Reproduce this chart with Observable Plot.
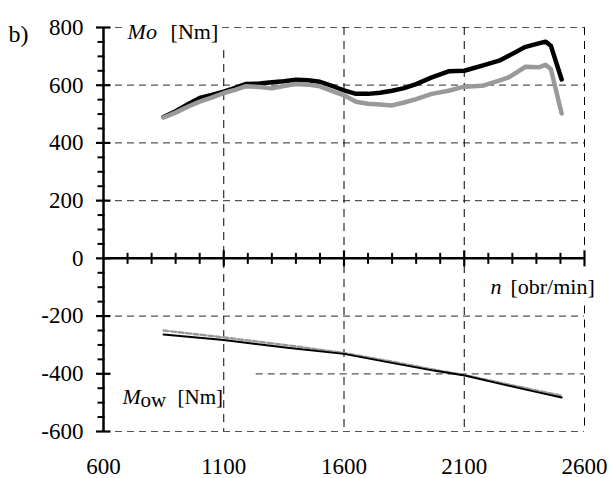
<!DOCTYPE html>
<html>
<head>
<meta charset="utf-8">
<script src="https://cdn.jsdelivr.net/npm/d3@7"></script>
<script src="https://cdn.jsdelivr.net/npm/@observablehq/plot@0.6"></script>
<style>
  html, body { margin: 0; padding: 0; background: #fff; }
</style>
</head>
<body>
<div id="chart"></div>
<script>
// ---- data ----
const rpmMo   = [850, 900, 955, 1000, 1050, 1100, 1150, 1190, 1250, 1300, 1350, 1400, 1450, 1500, 1565, 1600, 1650, 1700, 1750, 1800, 1850, 1900, 1965, 2035, 2100, 2175, 2245, 2285, 2355, 2410, 2438, 2460, 2505];
const moBlack = [490, 510, 536, 556, 566, 578, 592, 604, 606, 610, 614, 619, 617, 612, 593, 582, 570, 570, 574, 581, 590, 604, 627, 648, 650, 668, 685, 702, 733, 745, 751, 737, 620];
const moGray  = [488, 505, 527, 543, 557, 573, 585, 596, 594, 589, 597, 604, 602, 596, 575, 565, 543, 536, 533, 530, 540, 552, 570, 581, 595, 598, 616, 627, 664, 662, 671, 656, 502];

const rpmMowBlack = [850, 1100, 1364, 1600, 1765, 1973, 2102, 2251, 2389, 2505];
const mowBlack    = [-264, -283, -310, -331, -357, -389, -406, -435, -461, -482];
const rpmMowGray  = [850, 1100, 1400, 1600, 1800, 2000, 2100, 2300, 2505];
const mowGray     = [-250, -274, -305, -328, -358, -390, -404, -440, -476];

const xTicks = [600, 1100, 1600, 2100, 2600];
const yTicks = [800, 600, 400, 200, 0, -200, -400, -600];
const xMinor = d3.range(700, 2600, 100).filter(d => !xTicks.includes(d));
const yMinor = d3.range(-550, 800, 50).filter(d => !yTicks.includes(d));

// grid segments (data units)
const hGrid = [
  {y: 800, x1: 600, x2: 680}, {y: 800, x1: 1095, x2: 2600},
  {y: 600, x1: 600, x2: 2600}, {y: 400, x1: 600, x2: 2600},
  {y: 200, x1: 600, x2: 2600}, {y: -200, x1: 600, x2: 2600},
  {y: -400, x1: 1235, x2: 2600}, {y: -600, x1: 600, x2: 2600}
];
const vGrid = [
  {x: 1100, y1: 720, y2: -600}, {x: 1600, y1: 800, y2: -600},
  {x: 2100, y1: 800, y2: -600}, {x: 2600, y1: 800, y2: 0},
  {x: 2600, y1: -165, y2: -600}
];

const moB = rpmMo.map((x, i) => ({x, y: moBlack[i]}));
const moG = rpmMo.map((x, i) => ({x, y: moGray[i]}));
const mwB = rpmMowBlack.map((x, i) => ({x, y: mowBlack[i]}));
const mwG = rpmMowGray.map((x, i) => ({x, y: mowGray[i]}));

// tick symbols
const vTick = h => ({draw(ctx) { ctx.moveTo(0, -h); ctx.lineTo(0, h); }});
const hTick = (l, r) => ({draw(ctx) { ctx.moveTo(-l, 0); ctx.lineTo(r, 0); }});

const FONT = "'Liberation Serif', 'Times New Roman', Times, serif";

const chart = Plot.plot({
  width: 611,
  height: 478,
  marginLeft: 103,
  marginRight: 27,
  marginTop: 27,
  marginBottom: 47,
  x: {domain: [600, 2600], axis: null},
  y: {domain: [-600, 800], axis: null},
  style: {fontFamily: FONT, fontSize: "23px", background: "#fff", color: "#000", overflow: "visible"},
  marks: [
    Plot.ruleY(hGrid, {y: "y", x1: "x1", x2: "x2", stroke: "#555", strokeWidth: 1.2, strokeDasharray: "7,5"}),
    Plot.ruleX(vGrid, {x: "x", y1: "y1", y2: "y2", stroke: "#000", strokeWidth: 1, strokeDasharray: "8,6"}),
    // axis lines
    Plot.ruleX([600], {y1: -600, y2: 800, stroke: "#000", strokeWidth: 2.5}),
    Plot.ruleY([0], {x1: 600, x2: 2600, stroke: "#000", strokeWidth: 2.5}),
    // ticks
    Plot.dot(xMinor, {x: d => d, y: 0, symbol: vTick(5.5), fill: "none", stroke: "#000", strokeWidth: 2}),
    Plot.dot(xTicks.slice(1), {x: d => d, y: 0, symbol: vTick(8), fill: "none", stroke: "#000", strokeWidth: 2.2}),
    Plot.dot(yMinor, {x: 600, y: d => d, symbol: hTick(6, 1), fill: "none", stroke: "#000", strokeWidth: 2}),
    Plot.dot(yTicks, {x: 600, y: d => d, symbol: hTick(7.5, 7), fill: "none", stroke: "#000", strokeWidth: 2.2}),
    // tick labels
    Plot.axisY(yTicks, {tickSize: 0, tickPadding: 20, tickFormat: d => String(d), label: null, fontSize: 23}),
    Plot.axisX(xTicks, {tickSize: 0, tickPadding: 26, tickFormat: d => String(d), label: null, fontSize: 23}),
    // curves
    Plot.line(moB, {x: "x", y: "y", stroke: "#000", strokeWidth: 4.5, strokeLinejoin: "round", strokeLinecap: "round"}),
    Plot.line(moG, {x: "x", y: "y", stroke: "#999", strokeWidth: 4.5, strokeLinejoin: "round", strokeLinecap: "round"}),
    Plot.line(mwG, {x: "x", y: "y", stroke: "#999", strokeWidth: 2.4, strokeDasharray: "5,2.5"}),
    Plot.line(mwB, {x: "x", y: "y", stroke: "#000", strokeWidth: 2}),
    // labels
    Plot.text(["Mo"], {x: 700, y: 785, text: d => d, textAnchor: "start", fontStyle: "italic", fontSize: 22}),
    Plot.text(["[Nm]"], {x: 879, y: 785, text: d => d, textAnchor: "start", fontSize: 22}),
    Plot.text(["M"], {x: 679, y: -479, text: d => d, textAnchor: "start", fontStyle: "italic", fontSize: 22}),
    Plot.text(["ow"], {x: 754, y: -493, text: d => d, textAnchor: "start", fontSize: 21}),
    Plot.text(["[Nm]"], {x: 908, y: -483, text: d => d, textAnchor: "start", fontSize: 21}),
    Plot.text(["n"], {x: 2209, y: -99, text: d => d, textAnchor: "start", fontStyle: "italic", fontSize: 22}),
    Plot.text(["[obr/min]"], {x: 2292, y: -99, text: d => d, textAnchor: "start", fontSize: 22}),
    Plot.text(["b)"], {frameAnchor: "top-left", text: d => d, textAnchor: "start", dx: -95, dy: -3, fontSize: 24})
  ]
});

document.getElementById("chart").appendChild(chart);
</script>
</body>
</html>
